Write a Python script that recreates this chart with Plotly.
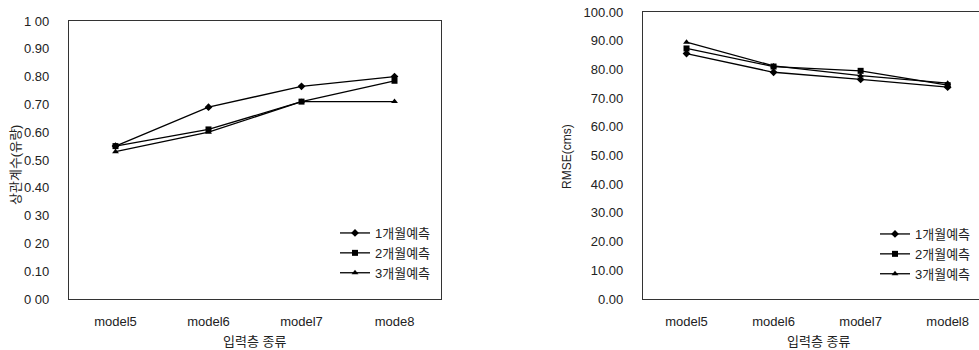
import plotly.graph_objects as go

# ---- data ----
left_categories = ["model5", "model6", "model7", "mode8"]
right_categories = ["model5", "model6", "model7", "model8"]
series_names = ["1개월예측", "2개월예측", "3개월예측"]

corr_1m = [0.55, 0.69, 0.765, 0.80]
corr_2m = [0.55, 0.61, 0.71, 0.785]
corr_3m = [0.53, 0.60, 0.71, 0.71]

rmse_1m = [85.5, 79.0, 76.5, 73.8]
rmse_2m = [87.3, 81.0, 79.5, 74.5]
rmse_3m = [89.5, 81.2, 77.8, 75.2]

left_ticks = [0.0, 0.1, 0.2, 0.3, 0.4, 0.5, 0.6, 0.7, 0.8, 0.9, 1.0]
left_ticktext = ["0 00", "0.10", "0 20", "0 30", "0.40", "0.50", "0.60", "0.70", "0.80", "0.90", "1 00"]
right_ticks = [0, 10, 20, 30, 40, 50, 60, 70, 80, 90, 100]
right_ticktext = ["%.2f" % v for v in right_ticks]

symbols = ["diamond", "square", "triangle-up"]
sizes = [6, 6, 6]
FONT = "Liberation Sans, Arial, Noto Sans CJK KR, sans-serif"
W, H = 979, 350

fig = go.Figure()
for name, vals, sym, sz in zip(series_names, [corr_1m, corr_2m, corr_3m], symbols, sizes):
    fig.add_trace(go.Scatter(x=left_categories, y=vals, name=name, mode="lines+markers",
                             line=dict(color="black", width=1.3),
                             marker=dict(symbol=sym, size=sz, color="black"),
                             xaxis="x", yaxis="y", legend="legend"))
for name, vals, sym, sz in zip(series_names, [rmse_1m, rmse_2m, rmse_3m], symbols, sizes):
    fig.add_trace(go.Scatter(x=right_categories, y=vals, name=name, mode="lines+markers",
                             line=dict(color="black", width=1.3),
                             marker=dict(symbol=sym, size=sz, color="black"),
                             xaxis="x2", yaxis="y2", legend="legend2"))

def px(x):
    return x / W

def py(y):
    return (H - y) / H

axis_common = dict(showgrid=False, zeroline=False, linecolor="#333", linewidth=1.2,
                   tickfont=dict(family=FONT, size=13, color="#222"), ticks="",
                   automargin=False)

def ann(text, x, y, angle=0, size=13):
    return dict(text=text, x=px(x), y=py(y), xref="paper", yref="paper",
                xanchor="center", yanchor="middle", showarrow=False, textangle=angle,
                font=dict(family=FONT, size=size, color="#222"))

fig.update_layout(
    width=W, height=H,
    margin=dict(l=0, r=0, t=0, b=0, pad=0, autoexpand=False),
    paper_bgcolor="white", plot_bgcolor="white",
    font=dict(family=FONT, color="#222"),
    xaxis=dict(domain=[px(69), px(441)], anchor="y", type="category",
               range=[-0.5, 3.5], showline=True, mirror=True,
               ticklabelstandoff=10, **axis_common),
    yaxis=dict(domain=[py(299), py(21)], anchor="x", range=[0, 1.0],
               tickvals=left_ticks, ticktext=left_ticktext, showline=True, mirror=True,
               ticklabelstandoff=16, **axis_common),
    xaxis2=dict(domain=[px(643), 1.0], anchor="y2", type="category",
                range=[-0.5, 3.36], showline=True, mirror=True,
                ticklabelstandoff=10, **axis_common),
    yaxis2=dict(domain=[py(299), py(12)], anchor="x2", range=[0, 100],
                tickvals=right_ticks, ticktext=right_ticktext, showline=True, mirror=True,
                ticklabelstandoff=16, **axis_common),
    legend=dict(x=px(335), y=py(218), xanchor="left", yanchor="top",
                bgcolor="rgba(0,0,0,0)", font=dict(family=FONT, size=13, color="#222"),
                itemwidth=30, tracegroupgap=0),
    legend2=dict(x=px(875), y=py(219), xanchor="left", yanchor="top",
                 bgcolor="rgba(0,0,0,0)", font=dict(family=FONT, size=13, color="#222"),
                 itemwidth=30, tracegroupgap=0),
    annotations=[
        ann("입력층 종류", 255, 341),
        ann("입력층 종류", 818, 341),
        ann("상관계수(유량)", 15, 165, -90),
        ann("RMSE(cms)", 567, 157, -90, 12),
    ],
)

fig.write_html("out.html", config={"displayModeBar": False},
               post_script="document.body.style.margin='0';document.body.style.overflow='hidden';")
